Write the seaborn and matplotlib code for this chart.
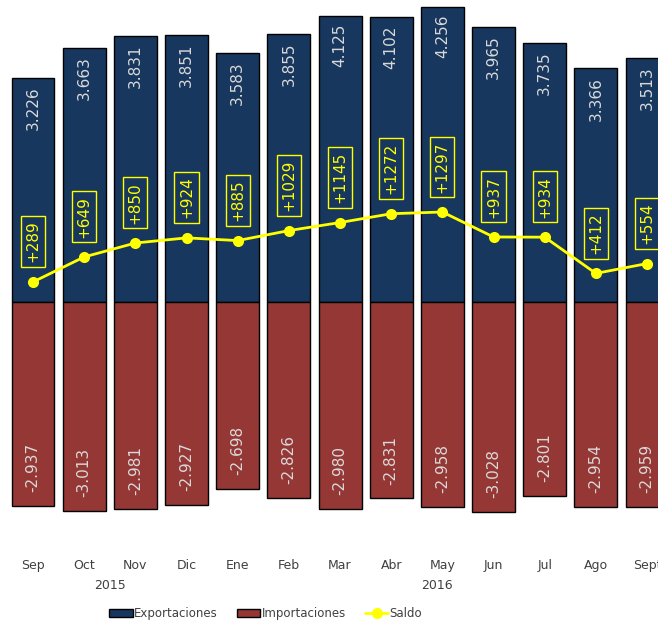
import numpy as np
import pandas as pd
import matplotlib
matplotlib.use("Agg")
import matplotlib.pyplot as plt
import matplotlib.transforms as mtransforms
from matplotlib.patches import Patch
from matplotlib.lines import Line2D
import seaborn as sns

# Datos (millones)
meses = ["Sep", "Oct", "Nov", "Dic", "Ene", "Feb", "Mar", "Abr", "May",
         "Jun", "Jul", "Ago", "Sept"]
exportaciones = [3226, 3663, 3831, 3851, 3583, 3855, 4125, 4102, 4256,
                 3965, 3735, 3366, 3513]
importaciones = [-2937, -3013, -2981, -2927, -2698, -2826, -2980, -2831,
                 -2958, -3028, -2801, -2954, -2959]
saldo = [289, 649, 850, 924, 885, 1029, 1145, 1272, 1297, 937, 934, 412, 554]
anios = ["2015", "2016"]

COL_EXP = "#17375e"
COL_IMP = "#953735"
COL_SAL = "#ffff00"
COL_TXT = "#404040"


def fmt(v):
    return f"{v:,}".replace(",", ".")


def main():
    df = pd.DataFrame({"mes": meses, "exp": exportaciones,
                       "imp": importaciones, "saldo": saldo})
    df["pos"] = np.arange(len(df))

    sns.set_style("white")
    fig = plt.figure(figsize=(6.58, 6.26), dpi=100)
    ax = fig.add_axes([0, 1 - 540 / 626, 1, 540 / 626])

    sns.barplot(data=df, x="mes", y="exp", color=COL_EXP, width=0.84,
                edgecolor="black", linewidth=1, saturation=1, ax=ax)
    sns.barplot(data=df, x="mes", y="imp", color=COL_IMP, width=0.84,
                edgecolor="black", linewidth=1, saturation=1, ax=ax)
    sns.lineplot(data=df, x="pos", y="saldo", color=COL_SAL, marker="o",
                 markersize=8, markeredgewidth=0, linewidth=2, ax=ax)

    ax.set_xlim(-0.645, 12.214)
    ax.set_ylim(-3430, 4352)
    for s in ax.spines.values():
        s.set_visible(False)
    ax.set_yticks([])
    ax.set_xlabel("")
    ax.set_ylabel("")
    ax.tick_params(axis="x", length=0, pad=14, labelsize=9, labelcolor=COL_TXT)

    # Etiquetas de valores
    for i in range(len(meses)):
        ax.annotate(fmt(exportaciones[i]), (i, exportaciones[i]),
                    xytext=(0, -6), textcoords="offset points",
                    rotation=90, ha="center", va="top", fontsize=11,
                    color="#d9d9d9")
        ax.annotate(fmt(importaciones[i]), (i, importaciones[i]),
                    xytext=(0, 10), textcoords="offset points",
                    rotation=90, ha="center", va="bottom", fontsize=11,
                    color="#d9d9d9")
        ax.annotate("+" + str(saldo[i]), (i, saldo[i]),
                    xytext=(0, 14), textcoords="offset points",
                    rotation=90, ha="center", va="bottom", fontsize=11,
                    color=COL_SAL,
                    bbox=dict(boxstyle="square,pad=0.3", fc="none",
                              ec=COL_SAL, lw=1))

    # Años
    trans = mtransforms.blended_transform_factory(ax.transData, ax.transAxes)
    ax.text(1.5, -0.085, anios[0], transform=trans, ha="center", va="center",
            fontsize=9, color=COL_TXT)
    ax.text(7.9, -0.085, anios[1], transform=trans, ha="center", va="center",
            fontsize=9, color=COL_TXT)

    handles = [
        Patch(facecolor=COL_EXP, edgecolor="black", label="Exportaciones"),
        Patch(facecolor=COL_IMP, edgecolor="black", label="Importaciones"),
        Line2D([], [], color=COL_SAL, marker="o", markersize=7, lw=2,
               label="Saldo"),
    ]
    fig.legend(handles=handles, loc="center", bbox_to_anchor=(0.404, 0.02),
               ncol=3, frameon=False, fontsize=8.5, handlelength=2.0,
               handletextpad=0.1, columnspacing=1.6, labelcolor=COL_TXT)

    fig.savefig("out.png", dpi=100)


if __name__ == "__main__":
    main()
